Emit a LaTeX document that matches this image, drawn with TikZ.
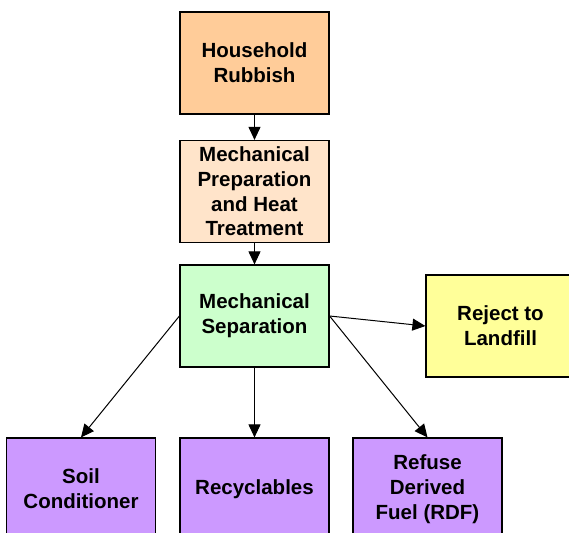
\documentclass[tikz,border=0pt]{standalone}
\usepackage{fontspec}
\setmainfont{Liberation Sans}
\usetikzlibrary{arrows.meta}
\definecolor{rubbishfill}{HTML}{FFCC99}
\definecolor{prepfill}{HTML}{FFE4CA}
\definecolor{sepfill}{HTML}{CCFFCC}
\definecolor{landfillfill}{HTML}{FFFF99}
\definecolor{outfill}{HTML}{CC99FF}
\begin{document}
\begin{tikzpicture}[x=1pt, y=-1pt,
    box/.style={draw=black, line width=1.2pt, minimum width=149pt, minimum height=102pt,
                inner sep=0pt, align=center, font=\fontsize{20.5}{24.7}\selectfont\bfseries},
    flow/.style={black, line width=1pt, -{Triangle[length=13pt, width=12pt]}}]
  \useasboundingbox (0, 0) rectangle (569, 532);
  \fill [white] (0, 0) rectangle (569, 532);
  \node [box, fill=rubbishfill] (rubbish) at (254.5, 63) {Household\\Rubbish};
  \node [box, fill=prepfill] (prep) at (254.5, 191.5) {Mechanical\\Preparation\\and Heat\\Treatment};
  \node [box, fill=sepfill] (sep) at (254.5, 316) {Mechanical\\Separation};
  \node [box, fill=landfillfill] (landfill) at (500.5, 326) {Reject to\\Landfill};
  \node [box, fill=outfill] (soil) at (81, 489) {Soil\\Conditioner};
  \node [box, fill=outfill] (recyc) at (254.5, 489) {Recyclables};
  \node [box, fill=outfill] (rdf) at (427.5, 489) {Refuse\\Derived\\Fuel (RDF)};
  \draw [flow] (rubbish) -- (prep);
  \draw [flow] (prep) -- (sep);
  \draw [flow] (sep.west) -- (soil.north);
  \draw [flow] (sep) -- (recyc);
  \draw [flow] (sep.east) -- (rdf.north);
  \draw [flow] (sep.east) -- (landfill.west);
\end{tikzpicture}
\end{document}
